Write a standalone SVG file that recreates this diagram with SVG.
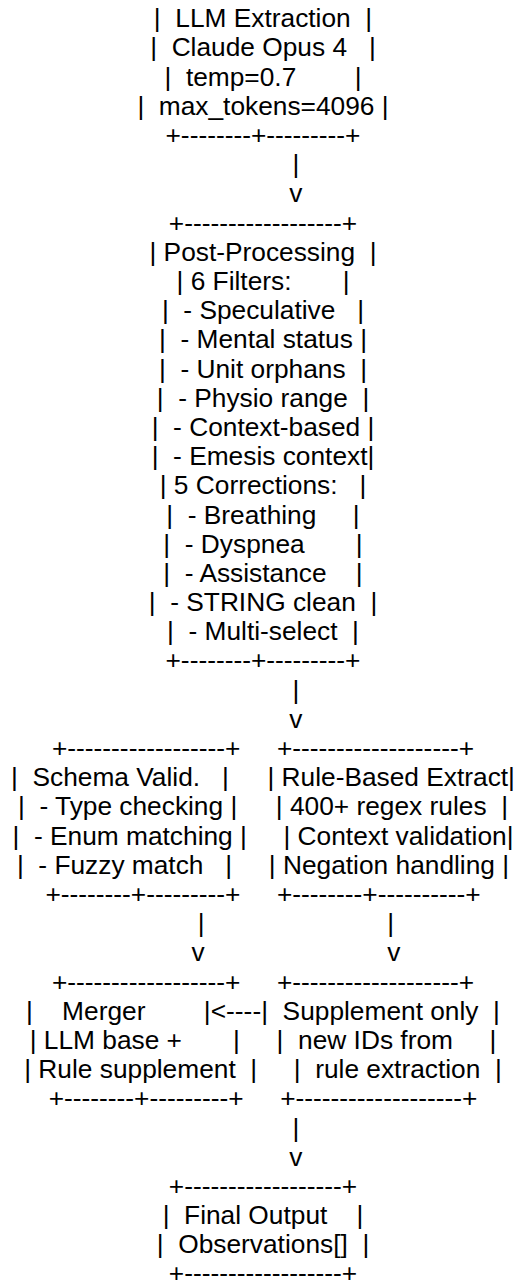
<svg xmlns="http://www.w3.org/2000/svg" width="519" height="1288" viewBox="0 0 519 1288" xml:space="preserve">
<style>
text { font-family: "Liberation Sans", Arial, sans-serif; font-size: 26.3px; fill: #000; white-space: pre; }
.c { text-anchor: middle; }
.l { text-anchor: start; }
.r { text-anchor: end; }
</style>
<rect x="0" y="0" width="519" height="1288" fill="#fff"/>
<g id="node-llm-extraction">
<text class="c" x="263" y="27.3">|  LLM Extraction  |</text>
<text class="c" x="263" y="56.49">|  Claude Opus 4   |</text>
<text class="c" x="263" y="85.68">|  temp=0.7        |</text>
<text class="c" x="263" y="114.87">|  max_tokens=4096 |</text>
<text class="c" x="263" y="144.06">+--------+---------+</text>
</g>
<g id="node-post-processing">
<text class="c" x="263" y="231.63">+------------------+</text>
<text class="c" x="263" y="260.82">| Post-Processing  |</text>
<text class="c" x="263" y="290.01">| 6 Filters:       |</text>
<text class="c" x="263" y="319.2">|  - Speculative   |</text>
<text class="c" x="263" y="348.39">|  - Mental status |</text>
<text class="c" x="263" y="377.58">|  - Unit orphans  |</text>
<text class="c" x="263" y="406.77">|  - Physio range  |</text>
<text class="c" x="263" y="435.96">|  - Context-based |</text>
<text class="c" x="263" y="465.15">|  - Emesis context|</text>
<text class="c" x="263" y="494.34">| 5 Corrections:   |</text>
<text class="c" x="263" y="523.53">|  - Breathing     |</text>
<text class="c" x="263" y="552.72">|  - Dyspnea       |</text>
<text class="c" x="263" y="581.91">|  - Assistance    |</text>
<text class="c" x="263" y="611.1">|  - STRING clean  |</text>
<text class="c" x="263" y="640.29">|  - Multi-select  |</text>
<text class="c" x="263" y="669.48">+--------+---------+</text>
</g>
<g id="node-schema-valid">
<text class="l" x="51.98" y="757.05">+------------------+</text>
<text class="l" x="11.06" y="786.24">|  Schema Valid.   |</text>
<text class="l" x="17.99" y="815.43">|  - Type checking |</text>
<text class="l" x="12.52" y="844.62">|  - Enum matching |</text>
<text class="l" x="16.90" y="873.81">|  - Fuzzy match   |</text>
<text class="l" x="45.38" y="903">+--------+---------+</text>
</g>
<g id="node-rule-based">
<text class="r" x="474.02" y="757.05">+-------------------+</text>
<text class="r" x="514.94" y="786.24">| Rule-Based Extract|</text>
<text class="r" x="508.01" y="815.43">| 400+ regex rules  |</text>
<text class="r" x="513.48" y="844.62">| Context validation|</text>
<text class="r" x="509.10" y="873.81">| Negation handling |</text>
<text class="r" x="480.62" y="903">+--------+----------+</text>
</g>
<g id="node-merger">
<text class="l" x="51.98" y="990.57">+------------------+</text>
<text class="l" x="26.05" y="1019.76">|    Merger        |</text>
<text class="l" x="29.68" y="1048.95">| LLM base +       |</text>
<text class="l" x="24.21" y="1078.14">| Rule supplement  |</text>
<text class="l" x="48.68" y="1107.33">+--------+---------+</text>
</g>
<g id="node-supplement">
<text class="r" x="474.02" y="990.57">+-------------------+</text>
<text class="r" x="499.95" y="1019.76">|  Supplement only  |</text>
<text class="r" x="496.32" y="1048.95">|  new IDs from     |</text>
<text class="r" x="501.79" y="1078.14">|  rule extraction  |</text>
<text class="r" x="477.32" y="1107.33">+-------------------+</text>
</g>
<g id="node-final-output">
<text class="c" x="263" y="1194.9">+------------------+</text>
<text class="c" x="263" y="1224.09">|  Final Output    |</text>
<text class="c" x="263" y="1253.28">|  Observations[]  |</text>
<text class="c" x="263" y="1282.2">+------------------+</text>
</g>
<g id="connectors">
<text class="c" x="263" y="173.25">         |</text>
<text class="c" x="263" y="202.44">         v</text>
<text class="c" x="263" y="698.67">         |</text>
<text class="c" x="263" y="727.86">         v</text>
<text class="c" x="263" y="932.19">         |                         |</text>
<text class="c" x="263" y="961.38">         v                         v</text>
<text class="l" x="210.75" y="1019.76">&lt;----</text>
<text class="c" x="263" y="1136.52">         |</text>
<text class="c" x="263" y="1165.71">         v</text>
</g>
</svg>
